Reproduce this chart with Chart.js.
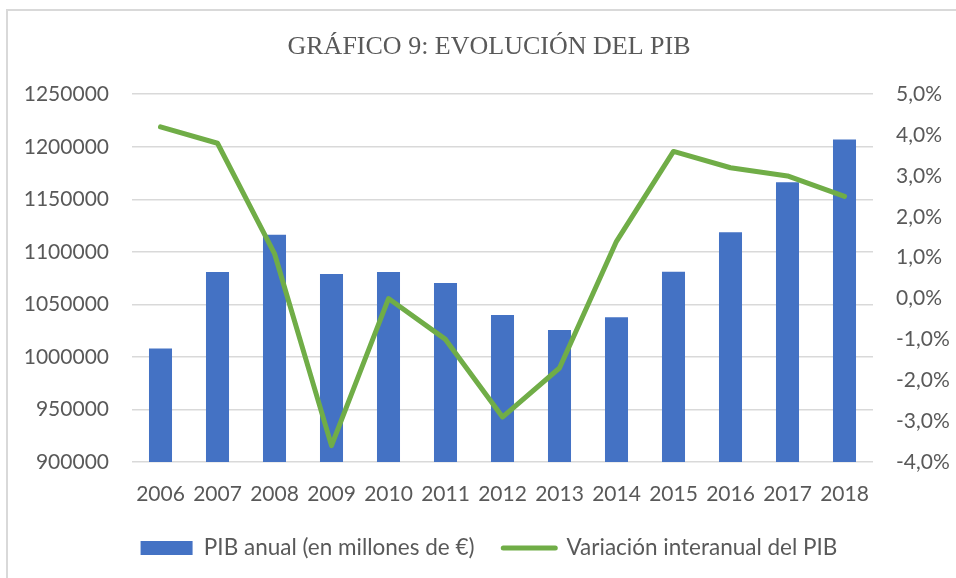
<!DOCTYPE html>
<html>
<head>
<meta charset="utf-8">
<script src="https://cdn.jsdelivr.net/npm/chart.js@4"></script>
<style>
  html, body { margin: 0; padding: 0; background: #ffffff; }
  #wrap { position: relative; width: 956px; height: 578px; overflow: hidden; }
  #frame { position: absolute; left: 6px; top: 9px; width: 1000px; height: 700px;
           border-top: 2px solid #d9d9d9; border-left: 2px solid #d9d9d9; box-sizing: border-box; }
  canvas { position: absolute; left: 0; top: 0; }
</style>
</head>
<body>
<div id="wrap">
  <div id="frame"></div>
  <canvas id="c" width="956" height="578"></canvas>
</div>
<script>
const categories = ['2006','2007','2008','2009','2010','2011','2012','2013','2014','2015','2016','2017','2018'];
const pibAnual = [1008000, 1080800, 1116200, 1079000, 1080900, 1070400, 1039800, 1025700, 1037800, 1081000, 1118700, 1166300, 1206900];
const variacion = [4.2, 3.8, 1.1, -3.6, 0.0, -1.0, -2.9, -1.7, 1.4, 3.6, 3.2, 3.0, 2.5];
const leftTicks = [900000, 1250000, 50000];   // min, max, step
const rightTicks = [-4, 5, 1];                 // min, max, step (%)
const titleText = 'GRÁFICO 9: EVOLUCIÓN DEL PIB';
const seriesNames = ['PIB anual (en millones de €)', 'Variación interanual del PIB'];

const tickFont = { family: 'Lato', size: 21 };
const grey = '#595959';

new Chart(document.getElementById('c'), {
  data: {
    labels: categories,
    datasets: [
      {
        type: 'bar',
        label: seriesNames[0],
        data: pibAnual,
        backgroundColor: '#4472C4',
        borderWidth: 0,
        yAxisID: 'y',
        order: 1,
        barPercentage: 0.404,
        categoryPercentage: 1.0
      },
      {
        type: 'line',
        label: seriesNames[1],
        data: variacion,
        borderColor: '#70AD47',
        backgroundColor: '#70AD47',
        borderWidth: 5,
        borderCapStyle: 'round',
        borderJoinStyle: 'round',
        pointRadius: 0,
        tension: 0,
        yAxisID: 'y1',
        order: 0
      }
    ]
  },
  options: {
    responsive: false,
    animation: false,
    devicePixelRatio: 1,
    layout: { padding: { left: 22, right: 0, top: 0, bottom: 8.75 } },
    plugins: {
      title: {
        display: true,
        text: titleText,
        color: grey,
        font: { family: 'Liberation Serif', size: 26, weight: 'normal' },
        padding: { top: 32, bottom: 31 }
      },
      legend: {
        position: 'bottom',
        labels: {
          color: grey,
          font: { family: 'Lato', size: 22.5 },
          usePointStyle: true,
          pointStyleWidth: 52,
          boxHeight: 14,
          padding: 28.75,
          sort: (a, b) => a.datasetIndex - b.datasetIndex,
          generateLabels: (chart) => {
            const items = Chart.defaults.plugins.legend.labels.generateLabels(chart);
            items.forEach(it => {
              if (it.datasetIndex === 0) { it.pointStyle = 'rect'; it.lineWidth = 0; }
              else { it.pointStyle = 'line'; it.lineWidth = 5; it.lineCap = 'round'; it.strokeStyle = '#70AD47'; }
            });
            return items;
          }
        }
      },
      tooltip: { enabled: false }
    },
    scales: {
      x: {
        grid: { display: false, drawTicks: false },
        border: { display: false },
        ticks: { color: grey, font: tickFont, padding: 20, maxRotation: 0, autoSkip: false },
        afterFit: (s) => { s.height = 46; }
      },
      y: {
        position: 'left',
        min: leftTicks[0], max: leftTicks[1],
        grid: { color: '#d9d9d9', lineWidth: 1.5, drawTicks: false },
        border: { display: false },
        ticks: { stepSize: leftTicks[2], color: grey, font: tickFont, padding: 23,
                 callback: (v) => String(v) },
        afterFit: (s) => { s.width = 110; }
      },
      y1: {
        position: 'right',
        min: rightTicks[0], max: rightTicks[1],
        grid: { drawOnChartArea: false, drawTicks: false },
        border: { display: false },
        ticks: { stepSize: rightTicks[2], color: grey, font: tickFont, padding: 23,
                 callback: (v) => v.toFixed(1).replace('.', ',') + '%' },
        afterFit: (s) => { s.width = 83; }
      }
    }
  }
});
</script>
</body>
</html>
